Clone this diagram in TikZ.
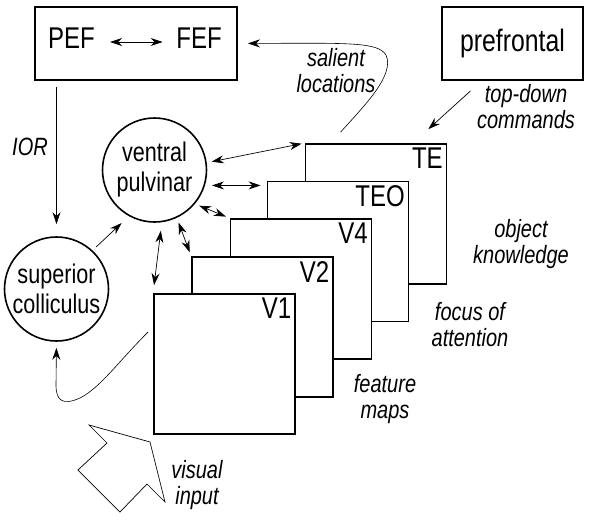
\documentclass[tikz,border=0pt]{standalone}
\usepackage{fontspec}
\setmainfont{Liberation Sans}[FakeStretch=0.8]
\usetikzlibrary{arrows.meta,calc}

\begin{document}
\begin{tikzpicture}[
    x=1pt, y=-1pt,
    every node/.style={inner sep=0pt},
    areaBox/.style={rectangle, draw, line width=1.8pt, fill=white, minimum width=141pt, minimum height=140pt},
    areaName/.style={anchor=north east, font=\fontsize{30}{30}\selectfont},
    ctrlBox/.style={rectangle, draw, line width=1.8pt, minimum height=73pt},
    ctrlName/.style={font=\fontsize{30}{30}\selectfont},
    nucleus/.style={circle, draw, line width=1.6pt, minimum size=104pt, align=center, font=\fontsize{27}{30}\selectfont},
    note/.style={align=center, font=\fontsize{25}{26}\selectfont\itshape},
    fibre/.style={line width=0.7pt, -{Stealth[length=12pt,width=8pt]}},
    biFibre/.style={line width=0.7pt, {Stealth[length=12pt,width=8pt]}-{Stealth[length=12pt,width=8pt]}}
]
    \useasboundingbox (0,0) rectangle (590,520);

    % control boxes
    \node [ctrlBox, minimum width=202pt] (pfbox) at (136,43.5) {};
    \node [ctrlName] (pef) at (71.5,38) {PEF};
    \node [ctrlName] (fef) at (199,38) {FEF};
    \node [ctrlBox, ctrlName, minimum width=141pt, font=\fontsize{31}{31}\selectfont] (pre) at (512.5,43.5) {prefrontal};

    % stack of feature maps, back to front
    \node [areaBox] (te) at (376,214) {};
    \node [areaBox] (teo) at ($(te)+(-38,37.5)$) {};
    \node [areaBox] (v4) at ($(teo)+(-37,37.5)$) {};
    \node [areaBox] (v2) at ($(v4)+(-38.5,38)$) {};
    \node [areaBox] (v1) at ($(v2)+(-38,37)$) {};
    \node [areaName] (teName) at ($(te.north east)+(-4.5,5)$) {TE};
    \node [areaName] (teoName) at ($(teo.north east)+(-4.5,5)$) {TEO};
    \node [areaName] (v4Name) at ($(v4.north east)+(-4.5,5)$) {V4};
    \node [areaName] (v2Name) at ($(v2.north east)+(-4.5,5)$) {V2};
    \node [areaName] (v1Name) at ($(v1.north east)+(-4.5,5)$) {V1};

    % nuclei
    \node [nucleus] (vp) at (154.5,170) {ventral\\pulvinar};
    \node [nucleus] (sc) at (56.5,289) {superior\\colliculus};

    % labels
    \node [note] (salient) at (336,71) {salient\\locations};
    \node [note] (topdown) at (526,106.5) {top-down\\commands};
    \node [note] (ior) at (30,147) {IOR};
    \node [note] (objknow) at (521,244) {object\\knowledge};
    \node [note] (focus) at (470,324.5) {focus of\\attention};
    \node [note] (featmaps) at (385,399.5) {feature\\maps};
    \node [note] (visin) at (197,485.5) {visual\\input};

    % connections
    \draw [biFibre, shorten <=15pt, shorten >=13.5pt] ([yshift=-4pt]pef.east) -- ([yshift=-4pt]fef.west);
    \draw [fibre, shorten <=6pt, shorten >=12pt] (sc.north |- pfbox.south) -- (sc.north);
    \draw [fibre, shorten <=5pt, shorten >=10pt] (sc.47) -- (vp.-119);
    \draw [biFibre, shorten <=5pt, shorten >=3pt] (vp.8) -- (te.north west);
    \draw [biFibre, shorten <=7pt, shorten >=6pt] (vp.-17) -- (vp.-17 -| teo.west);
    \draw [biFibre, shorten <=4.5pt, shorten >=4pt] (vp.-40) -- (v4.north west);
    \draw [biFibre, shorten <=5pt, shorten >=4pt] (vp.-65) -- (v2.north west);
    \draw [biFibre, shorten <=8.5pt, shorten >=8pt] (vp.-82) -- (v1.north west);
    \draw [fibre, line width=0.6pt, shorten >=10pt] ($(te.north west)+(36,-11)$)
        .. controls (365,105) and (395,75) .. (386,55)
        .. controls (378,42) and (350,43) .. (pfbox.east);
    \draw [fibre] ($(pre.south)+(-42,10)$) -- ($(te.north east)+(-19,-14)$);
    \draw [fibre, line width=0.6pt, shorten >=6pt] ($(v1.west)+(-5,-32)$)
        .. controls (118,362) and (100,388) .. (80,398)
        .. controls (62,406) and (56,400) .. (56,385) -- (sc.south);

    % visual input arrow
    \draw [line width=0.7pt, line join=miter] (89,425) -- (150,442) -- (165,502) -- (147,484)
        -- (120,512) -- (78,470) -- (107,443) -- cycle;
\end{tikzpicture}
\end{document}
